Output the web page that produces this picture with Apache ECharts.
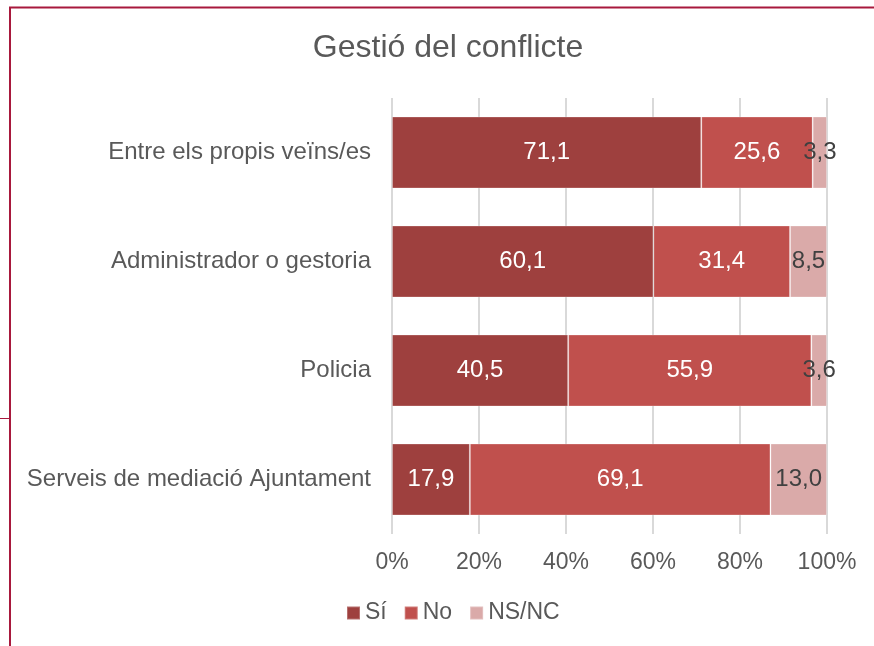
<!DOCTYPE html>
<html>
<head>
<meta charset="utf-8">
<script src="https://cdn.jsdelivr.net/npm/echarts@6/dist/echarts.min.js"></script>
<style>
html,body{margin:0;padding:0;background:#fff;}
#chart{width:874px;height:646px;}
</style>
</head>
<body>
<div id="chart"></div>
<script>
var titleText = 'Gestió del conflicte';
var categories = ['Entre els propis veïns/es', 'Administrador o gestoria', 'Policia', 'Serveis de mediació Ajuntament'];
var seriesNames = ['Sí', 'No', 'NS/NC'];
var valuesSi = [71.1, 60.1, 40.5, 17.9];
var valuesNo = [25.6, 31.4, 55.9, 69.1];
var valuesNsNc = [3.3, 8.5, 3.6, 13.0];

var FONT = '"Liberation Sans", Arial, sans-serif';
var colors = ['#9E403E', '#C0504D', '#DAAAA9'];
var labelColors = ['#FFFFFF', '#FFFFFF', '#404040'];

function fmt(p) { return p.value.toFixed(1).replace('.', ','); }

var allValues = [valuesSi, valuesNo, valuesNsNc];
var series = seriesNames.map(function (name, i) {
  return {
    name: name,
    type: 'bar',
    stack: 'total',
    barWidth: '66%',
    data: allValues[i],
    itemStyle: { color: colors[i], borderColor: 'rgba(255,255,255,0.25)', borderWidth: 1 },
    label: {
      show: true,
      position: 'inside',
      formatter: fmt,
      color: labelColors[i],
      fontFamily: FONT,
      fontSize: 24
    },
    emphasis: { disabled: true }
  };
});

var chart = echarts.init(document.getElementById('chart'), null, { renderer: 'canvas' });
chart.setOption({
  animation: false,
  backgroundColor: '#ffffff',
  title: {
    text: titleText,
    left: 443,
    top: 27,
    textAlign: 'center',
    textStyle: { color: '#595959', fontFamily: FONT, fontSize: 32, fontWeight: 'normal' }
  },
  legend: {
    data: seriesNames,
    left: 346,
    top: 600,
    padding: 0,
    icon: 'rect',
    itemWidth: 13,
    itemHeight: 13,
    itemGap: 17,
    textStyle: { color: '#595959', fontFamily: FONT, fontSize: 23, lineHeight: 26 }
  },
  grid: { left: 392, right: 47, top: 98, bottom: 112, containLabel: false },
  xAxis: {
    type: 'value',
    min: 0,
    max: 100,
    interval: 20,
    axisLine: { show: false },
    axisTick: { show: false },
    splitLine: { show: true, lineStyle: { color: '#D9D9D9', width: 2 } },
    axisLabel: { formatter: '{value}%', color: '#595959', fontFamily: FONT, fontSize: 23, margin: 17 }
  },
  yAxis: {
    type: 'category',
    data: categories,
    inverse: true,
    axisLine: { show: false },
    axisTick: { show: false },
    axisLabel: { color: '#595959', fontFamily: FONT, fontSize: 24, margin: 21 }
  },
  series: series,
  graphic: [
    { type: 'line', shape: { x1: 9, y1: 7.5, x2: 874, y2: 7.5 }, style: { stroke: '#A8193D', lineWidth: 2 } },
    { type: 'line', shape: { x1: 10, y1: 7, x2: 10, y2: 646 }, style: { stroke: '#A8193D', lineWidth: 2 } },
    { type: 'line', shape: { x1: 0, y1: 418.5, x2: 9, y2: 418.5 }, style: { stroke: '#A8193D', lineWidth: 1 } }
  ]
});
</script>
</body>
</html>
